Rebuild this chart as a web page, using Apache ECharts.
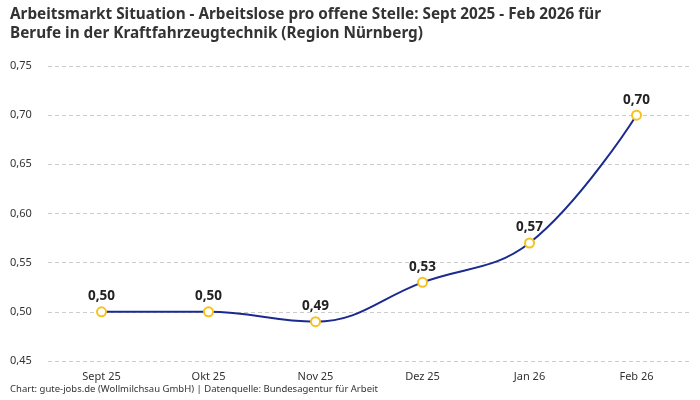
<!DOCTYPE html>
<html><head><meta charset="utf-8">
<script src="https://cdn.jsdelivr.net/npm/echarts@6/dist/echarts.min.js"></script>
<style>html,body{margin:0;padding:0;background:#fff}#c{width:700px;height:400px}</style>
</head><body><div id="c"></div>
<script>
const categories = ["Sept 25","Okt 25","Nov 25","Dez 25","Jan 26","Feb 26"];
const values = [0.50, 0.50, 0.49, 0.53, 0.57, 0.70];
const yTicks = [0.45, 0.75, 0.05];
const titleText = "Arbeitsmarkt Situation - Arbeitslose pro offene Stelle: Sept 2025 - Feb 2026 für\nBerufe in der Kraftfahrzeugtechnik (Region Nürnberg)";
const footerText = "Chart: gute-jobs.de (Wollmilchsau GmbH) | Datenquelle: Bundesagentur für Arbeit";
const fmt = v => v.toFixed(2).replace('.', ',');
const chart = echarts.init(document.getElementById('c'));
chart.setOption({
  animation:false,
  textStyle:{fontFamily:"Noto Sans"},
  title:[{text:titleText,left:5,top:0,textStyle:{fontSize:15.3,fontWeight:'bold',color:'#333',lineHeight:19,fontFamily:"Noto Sans"}},
    {text:footerText,left:5,bottom:1,textStyle:{fontSize:9.5,fontWeight:'normal',color:'#333',fontFamily:"Noto Sans"}}],
  grid:{left:48,right:10,top:66,bottom:39},
  xAxis:{type:'category',data:categories,boundaryGap:true,
    axisLine:{show:false},axisTick:{show:false},
    axisLabel:{color:'#333',fontSize:11,margin:10}},
  yAxis:{type:'value',min:yTicks[0],max:yTicks[1],interval:yTicks[2],
    axisLabel:{formatter:fmt,color:'#333',fontSize:11,align:'left',margin:38},
    splitLine:{lineStyle:{type:[4,3],color:'#ccc'}},axisLine:{show:false},axisTick:{show:false}},
  series:[{type:'line',data:values,smooth:0.4,
    lineStyle:{color:'#1a2a8f',width:2},
    symbol:'circle',symbolSize:9,
    itemStyle:{color:'#fff',borderColor:'#f7c21a',borderWidth:2},
    label:{show:true,position:'top',distance:3,formatter:p=>fmt(p.value),fontSize:13.5,fontWeight:'bold',color:'#222'}}]
});
</script></body></html>
